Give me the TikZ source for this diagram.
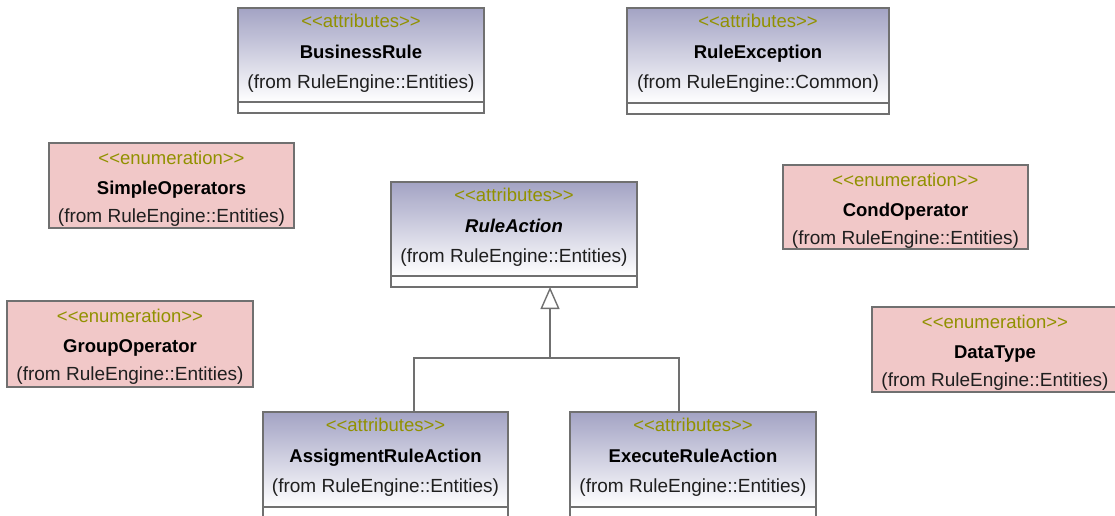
\documentclass[tikz,border=0pt]{standalone}
\usepackage{fontspec}
\setmainfont{Liberation Sans}
\usetikzlibrary{arrows.meta}

\definecolor{hdr}{RGB}{163,163,196}
\definecolor{enumfill}{RGB}{241,200,200}
\definecolor{stereo}{RGB}{145,145,0}
\definecolor{edge}{RGB}{112,112,112}

\tikzset{
  x=1pt, y=-1pt,
  every node/.style={font=\fontsize{18.5}{20}\selectfont, inner sep=0pt, outer sep=0pt},
  head/.style={draw=edge, line width=1.4pt, top color=hdr, bottom color=white, anchor=north west},
  comp/.style={draw=edge, line width=1.4pt, fill=white, anchor=north west},
  enumbox/.style={draw=edge, line width=1.4pt, fill=enumfill, anchor=north west},
  st/.style={text=stereo, anchor=base},
  nm/.style={font=\fontsize{18.5}{20}\selectfont\bfseries, anchor=base},
  fr/.style={font=\fontsize{19}{20}\selectfont, text=black!88, anchor=base},
  gen/.style={draw=edge, line width=1.4pt},
}

% class with attribute stereotype: name, left, top, width, header height, title, origin
\newcommand\attrclass[7]{%
  \node[head, minimum width=#4, minimum height=#5] (#1) at (#2,#3) {};
  \node[comp, minimum width=#4, minimum height=11] (#1-c) at (#2,#3+#5) {};
  \node[st] (#1-s) at ([yshift=-19pt]#1.north) {<\kern0pt<attributes>\kern0pt>};
  \node[nm] (#1-n) at ([yshift=-50pt]#1.north) {#6};
  \node[fr] (#1-f) at ([yshift=-80pt]#1.north) {(from RuleEngine::#7)};
}

% enumeration: name, left, top, width, height, title
\newcommand\enumclass[6]{%
  \node[enumbox, minimum width=#4, minimum height=#5] (#1) at (#2,#3) {};
  \node[st] (#1-s) at ([yshift=-21pt]#1.north) {<\kern0pt<enumeration>\kern0pt>};
  \node[nm] (#1-n) at ([yshift=-51pt]#1.north) {#6};
  \node[fr] (#1-f) at ([yshift=-79pt]#1.north) {(from RuleEngine::Entities)};
}

\begin{document}
\begin{tikzpicture}
\useasboundingbox[fill=white] (0,0) rectangle (1115,515);

\attrclass{br}{238}{8}{246}{94}{BusinessRule}{Entities}
\attrclass{re}{627}{8}{262}{95}{RuleException}{Common}
\attrclass{ra}{391}{182}{246}{94}{\itshape RuleAction}{Entities}
\attrclass{asg}{263}{412}{245}{95}{AssigmentRuleAction}{Entities}
\attrclass{exe}{570}{412}{246}{95}{ExecuteRuleAction}{Entities}

\enumclass{so}{49}{143}{245}{85}{SimpleOperators}
\enumclass{co}{783}{165}{245}{84}{CondOperator}
\enumclass{go}{7}{301}{246}{86}{GroupOperator}
\enumclass{dt}{872}{307}{246}{85}{DataType}

% generalization towards RuleAction
\coordinate (j) at (550,358);
\draw[gen] ([xshift=151pt]asg.north west) |- (j) -| ([xshift=109pt]exe.north west);
\draw[gen, -{Triangle[open, fill=white, length=22pt, width=19pt]}] (j) -- ([xshift=159pt]ra-c.south west);
\end{tikzpicture}
\end{document}
